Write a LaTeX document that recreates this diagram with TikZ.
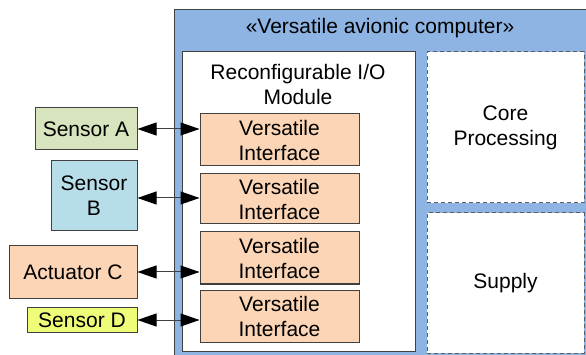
\documentclass[tikz,border=0pt]{standalone}
\usepackage{fontspec}
\setmainfont{Liberation Sans}
\usetikzlibrary{arrows.meta}
\definecolor{outerblue}{HTML}{8EB4E3}
\definecolor{edgegray}{HTML}{404040}
\definecolor{sensA}{HTML}{D7E4BD}
\definecolor{sensB}{HTML}{B7DEE8}
\definecolor{peach}{HTML}{FBD5B5}
\definecolor{sensD}{HTML}{EEFC78}
\tikzset{
  box/.style={draw=edgegray, line width=1pt, rectangle, inner sep=0pt, align=center,
    font=\fontsize{21}{25}\selectfont},
  dashbox/.style={box, draw=edgegray!85, dash pattern=on 4pt off 3pt, fill=white},
  link/.style={draw=edgegray, line width=1pt, arrows={Triangle[length=19pt,width=13pt,black]-Triangle[length=19pt,width=13pt,black]}},
  txt/.style={inner sep=0pt, align=center, font=\fontsize{21}{25}\selectfont}
}
\begin{document}
\begin{tikzpicture}[x=1pt,y=-1pt]
\useasboundingbox (0,0) rectangle (586,355);
\clip (0,0) rectangle (586,355);
% outer block
\node[box, fill=outerblue, minimum width=430pt, minimum height=360pt] (outer) at (389,190) {};
\node[txt] (title) at (380,28) {«Versatile avionic computer»};
% module
\node[box, fill=white, minimum width=233pt, minimum height=299pt] (module) at (298.5,201.5) {};
\node[txt] (modtitle) at (298,84) {Reconfigurable I/O\\Module};
% core and supply
\node[dashbox, minimum width=157pt, minimum height=151pt] (core) at (505.5,127.5) {Core\\Processing};
\node[dashbox, minimum width=157pt, minimum height=140pt] (supply) at (505.5,283) {Supply};
% interfaces
\node[box, fill=peach, minimum width=159pt, minimum height=52pt] (if1) at (279.5,140) {Versatile\\Interface};
\node[box, fill=peach, minimum width=159pt, minimum height=50pt] (if2) at (279.5,199) {Versatile\\Interface};
\node[box, fill=peach, minimum width=159pt, minimum height=52pt] (if3) at (279.5,258) {Versatile\\Interface};
\node[box, fill=peach, minimum width=159pt, minimum height=52pt] (if4) at (279.5,316) {Versatile\\Interface};
% external devices
\node[box, fill=sensA, minimum width=102pt, minimum height=42pt] (sA) at (86,129) {Sensor A};
\node[box, fill=sensB, minimum width=86pt, minimum height=70pt] (sB) at (94,196) {Sensor\\B};
\node[box, fill=peach, minimum width=128pt, minimum height=52pt] (aC) at (73,272) {Actuator C};
\node[box, fill=sensD, minimum width=110pt, minimum height=25pt] (sD) at (82,320) {Sensor D};
% links
\draw[link] (sA.east) -- (sA.east -| if1.west);
\draw[link] ([yshift=-2pt]sB.east) -- ([yshift=-2pt]sB.east -| if2.west);
\draw[link] (aC.east) -- (aC.east -| if3.west);
\draw[link] (sD.east) -- (sD.east -| if4.west);
\end{tikzpicture}
\end{document}
